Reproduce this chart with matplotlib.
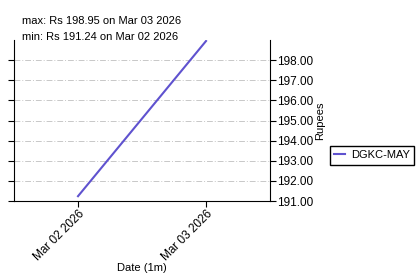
import datetime
import matplotlib
matplotlib.use("Agg")
import matplotlib.pyplot as plt
import matplotlib.dates as mdates
from matplotlib.ticker import FormatStrFormatter

plt.rcParams['font.family'] = ['Liberation Sans', 'DejaVu Sans']
plt.rcParams['font.size'] = 8

dates = [datetime.datetime(2026, 3, 2), datetime.datetime(2026, 3, 3)]
prices = [191.24, 198.95]
series_name = "DGKC-MAY"
max_text = "max: Rs 198.95 on Mar 03 2026"
min_text = "min: Rs 191.24 on Mar 02 2026"

fig = plt.figure(figsize=(4.18, 2.75), dpi=100)
ax = fig.add_axes([0.0335, 0.269, 0.6125, 0.5855])

ax.plot(dates, prices, color="#5f52cf", lw=1.5, label=series_name)

ax.set_xlim(dates[0] - datetime.timedelta(hours=12), dates[-1] + datetime.timedelta(hours=12))
ax.set_ylim(191, 199)

ax.xaxis.set_major_locator(mdates.DayLocator())
ax.xaxis.set_major_formatter(mdates.DateFormatter("%b %d %Y"))

ax.yaxis.set_label_position("right")
ax.yaxis.set_major_formatter(FormatStrFormatter("%.2f"))
ax.set_yticks(range(191, 199))
ax.tick_params(axis='y', left=True, right=True, labelleft=False, labelright=True,
               length=4, width=0.8, pad=1, labelsize=8.5)
ax.tick_params(axis='x', length=4, width=0.8, pad=1, labelsize=8.5)
plt.setp(ax.get_xticklabels(), rotation=45, ha="right", rotation_mode="anchor")

ax.spines['top'].set_visible(False)
ax.grid(axis='y', color='#c8c8c8', lw=0.7, ls=(0, (6, 2, 1, 2)))
ax.set_axisbelow(True)

ax.set_xlabel("Date (1m)")
ax.xaxis.set_label_coords(0.5, -0.385)
ax.set_ylabel("Rupees", labelpad=1.5)

fig.text(0.053, 0.924, max_text, va='center')
fig.text(0.053, 0.865, min_text, va='center')

fig.legend(loc='center left', bbox_to_anchor=(0.789, 0.436), borderaxespad=0,
           fancybox=False, edgecolor='black', framealpha=1, borderpad=0.4,
           handlelength=1.0, handletextpad=0.5)

fig.savefig("out.png", dpi=100)
